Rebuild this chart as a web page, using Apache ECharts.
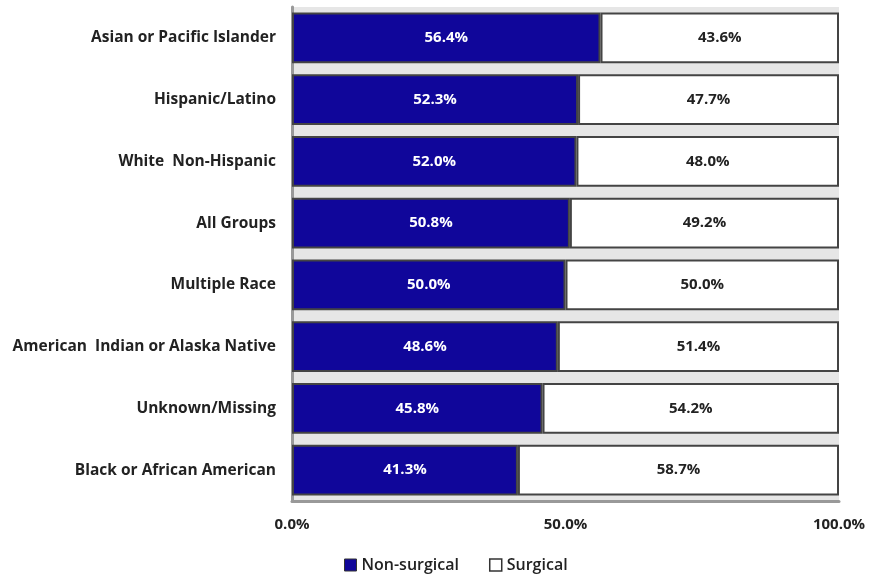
<!DOCTYPE html>
<html>
<head>
<meta charset="utf-8">
<script src="https://cdn.jsdelivr.net/npm/echarts@6/dist/echarts.min.js"></script>
<style>html,body{margin:0;padding:0;background:#fff}#c{width:878px;height:574px}</style>
</head>
<body>
<div id="c"></div>
<script>
var categories = ["Black or African American","Unknown/Missing","American  Indian or Alaska Native","Multiple Race","All Groups","White  Non-Hispanic","Hispanic/Latino","Asian or Pacific Islander"];
var nonSurgical = [41.3, 45.8, 48.6, 50.0, 50.8, 52.0, 52.3, 56.4];
var surgical = [58.7, 54.2, 51.4, 50.0, 49.2, 48.0, 47.7, 43.6];
var xTicks = [0, 50, 100];

var FONT = "'Open Sans', 'Liberation Sans', sans-serif";
var chart = echarts.init(document.getElementById('c'), null, {renderer:'canvas'});
chart.setOption({
  animation: false,
  grid: {left: 292, right: 39, top: 7, bottom: 73, show: true, backgroundColor: '#e6e6e6', borderWidth: 0},
  legend: {
    top: 552, left: 339, itemWidth: 12, itemHeight: 12, itemGap: 30,
    textStyle: {fontFamily: FONT, fontSize: 16, color: '#222', fontWeight: 600},
    data: [
      {name: 'Non-surgical', icon: 'rect', itemStyle: {color: '#10069a', borderColor: '#333', borderWidth: 1}},
      {name: 'Surgical', icon: 'rect', itemStyle: {color: '#fff', borderColor: '#333', borderWidth: 1.5}}
    ]
  },
  xAxis: {
    type: 'value', min: 0, max: 100, interval: 50,
    axisLine: {show: true, lineStyle: {color: '#999', width: 3}},
    axisTick: {show: false},
    splitLine: {show: false},
    axisLabel: {
      fontFamily: FONT, fontSize: 15, fontWeight: 'bold', color: '#222', margin: 16,
      formatter: function(v){ return v.toFixed(1) + '%'; }
    }
  },
  yAxis: {
    type: 'category', data: categories,
    axisLine: {show: true, lineStyle: {color: '#999', width: 3}},
    axisTick: {show: false},
    axisLabel: {fontFamily: FONT, fontSize: 15.5, fontWeight: 'bold', color: '#222', margin: 16}
  },
  series: [
    {
      name: 'Non-surgical', type: 'bar', stack: 'a', data: nonSurgical, barCategoryGap: '18%',
      itemStyle: {color: '#10069a', borderColor: '#444', borderWidth: 2},
      label: {show: true, position: 'inside', color: '#fff', fontFamily: FONT, fontSize: 15, fontWeight: 'bold',
        formatter: function(p){ return p.value.toFixed(1) + '%'; }}
    },
    {
      name: 'Surgical', type: 'bar', stack: 'a', data: surgical, barCategoryGap: '18%',
      itemStyle: {color: '#fff', borderColor: '#444', borderWidth: 2},
      label: {show: true, position: 'inside', color: '#222', fontFamily: FONT, fontSize: 15, fontWeight: 'bold',
        formatter: function(p){ return p.value.toFixed(1) + '%'; }}
    }
  ]
});
</script>
</body>
</html>
